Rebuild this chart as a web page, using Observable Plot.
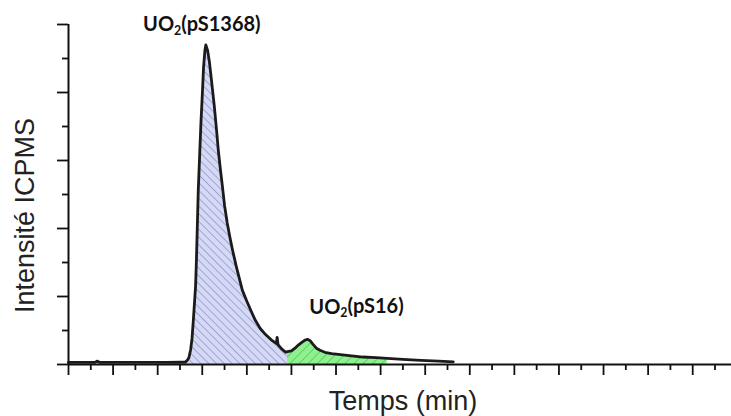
<!DOCTYPE html>
<html>
<head>
<meta charset="utf-8">
<script src="https://cdn.jsdelivr.net/npm/d3@7"></script>
<script src="https://cdn.jsdelivr.net/npm/@observablehq/plot@0.6"></script>
<style>
  html, body { margin: 0; padding: 0; background: #fff; }
</style>
</head>
<body>
<div id="chart"></div>
<script>
// ---- data ----
const times = [
  0.00, 0.30, 0.60, 0.65, 0.70, 1.00, 1.40, 1.80, 2.20, 2.50, 2.62,
  2.66, 2.70, 2.74, 2.77, 2.80, 2.83, 2.85, 2.87, 2.89, 2.91, 2.94, 2.97, 3.00, 3.03, 3.06, 3.08,
  3.12, 3.16, 3.20, 3.24, 3.27, 3.32, 3.36, 3.41, 3.45, 3.50, 3.56, 3.62, 3.68, 3.76, 3.83, 3.90,
  4.00, 4.10, 4.19, 4.30, 4.42, 4.57, 4.66, 4.68, 4.70, 4.78, 4.87, 4.91,
  5.00, 5.08, 5.16, 5.24, 5.31, 5.36, 5.42, 5.48, 5.56, 5.64, 5.75, 5.90, 6.05, 6.30, 6.60, 6.90,
  7.15, 7.50, 7.90, 8.30, 8.63
];
const intensities = [
  0.030, 0.030, 0.032, 0.050, 0.030, 0.030, 0.031, 0.030, 0.032, 0.033, 0.035,
  0.06, 0.10, 0.22, 0.38, 0.65, 0.95, 1.15, 1.55, 2.05, 2.55, 3.05, 3.55, 3.95, 4.38, 4.62, 4.70,
  4.62, 4.45, 4.22, 3.98, 3.80, 3.45, 3.15, 2.85, 2.63, 2.34, 2.08, 1.87, 1.68, 1.45, 1.27, 1.09,
  0.93, 0.78, 0.65, 0.53, 0.44, 0.35, 0.31, 0.40, 0.29, 0.23, 0.18, 0.19,
  0.20, 0.24, 0.29, 0.33, 0.36, 0.37, 0.35, 0.30, 0.24, 0.21, 0.18, 0.16, 0.15, 0.13, 0.11, 0.10,
  0.09, 0.075, 0.06, 0.05, 0.04
];
const peak1Range = [2.62, 4.91];   // UO2(pS1368) integrated zone
const peak2Range = [4.91, 7.15];   // UO2(pS16) integrated zone
const peakLabels = ["UO2(pS1368)", "UO2(pS16)"];
const peakLabelTimes = [2.99, 6.46];
const peakLabelIntensities = [4.90, 0.75];
const xMajorTicks = [0, 1, 2, 3, 4, 5, 6, 7, 8, 9, 10, 11, 12, 13, 14];
const xMinorTicks = [0.5, 1.5, 2.5, 3.5, 4.5, 5.5, 6.5, 7.5, 8.5, 9.5, 10.5, 11.5, 12.5, 13.5, 14.5];
const yMajorTicks = [0, 1, 2, 3, 4, 5];
const yMinorTicks = [0.5, 1.5, 2.5, 3.5, 4.5];
const xTitle = "Temps (min)";
const yTitle = "Intensité ICPMS";

// ---- build table ----
const data = times.map((t, i) => ({t, v: intensities[i]}));
const inRange = (r) => data.filter(d => d.t >= r[0] && d.t <= r[1]);
const labels = peakLabels.map((text, i) => ({text, t: peakLabelTimes[i], v: peakLabelIntensities[i]}));
const noText = () => "";

const plot = Plot.plot({
  width: 731,
  height: 416,
  marginLeft: 68,
  marginRight: 0,
  marginTop: 24,
  marginBottom: 52,
  x: {domain: [0, 14.87], axis: null, label: null},
  y: {domain: [0, 5], axis: null, label: null},
  marks: [
    Plot.areaY(inRange(peak1Range), {x: "t", y: "v", fill: "url(#hatchBlue)"}),
    Plot.areaY(inRange(peak2Range), {x: "t", y: "v", fill: "url(#hatchGreen)"}),
    Plot.line(data, {x: "t", y: "v", stroke: "#1b1b1b", strokeWidth: 2.8, strokeLinejoin: "round"}),
    Plot.axisX({ticks: xMajorTicks, tickSize: 11, tickFormat: noText, label: null, stroke: "#111", strokeWidth: 1.8}),
    Plot.axisX({ticks: xMinorTicks, tickSize: 6, tickFormat: noText, label: null, stroke: "#111", strokeWidth: 1.8}),
    Plot.axisY({ticks: yMajorTicks, tickSize: 11, tickFormat: noText, label: null, stroke: "#111", strokeWidth: 1.8}),
    Plot.axisY({ticks: yMinorTicks, tickSize: 6, tickFormat: noText, label: null, stroke: "#111", strokeWidth: 1.8}),
    Plot.ruleY([0], {stroke: "#111", strokeWidth: 2}),
    Plot.ruleX([0], {stroke: "#111", strokeWidth: 2}),
    Plot.text(labels, {x: "t", y: "v", text: "text", lineAnchor: "bottom", textAnchor: "middle",
      fontFamily: "Lato, 'Open Sans', sans-serif", fontWeight: "bold", fontSize: 20, fill: "#111"}),
    Plot.text([xTitle], {frameAnchor: "bottom", dx: 3, dy: 45, lineAnchor: "bottom",
      fontFamily: "'Liberation Sans', Arial, sans-serif", fontSize: 27, fill: "#222"}),
    Plot.text([yTitle], {frameAnchor: "left", dx: -35, dy: 21, rotate: -90, lineAnchor: "bottom", textAnchor: "middle",
      fontFamily: "'Liberation Sans', Arial, sans-serif", fontSize: 27, fill: "#222"})
  ]
});

// hatch patterns for integrated zones
const svg = d3.select(plot);
const defs = svg.insert("defs", ":first-child");
function hatch(id, bg, line, size, angle, w) {
  const p = defs.append("pattern").attr("id", id).attr("patternUnits", "userSpaceOnUse")
    .attr("width", size).attr("height", size).attr("patternTransform", `rotate(${angle})`);
  p.append("rect").attr("width", size).attr("height", size).attr("fill", bg);
  p.append("line").attr("x1", 0).attr("y1", 0).attr("x2", 0).attr("y2", size)
    .attr("stroke", line).attr("stroke-width", w);
}
hatch("hatchBlue", "#d5d9f7", "#858cb8", 5.5, -45, 1.3);
hatch("hatchGreen", "#8ef08e", "#4fbf4f", 6.5, 45, 1.3);

// subscript "2" in UO2 labels
svg.selectAll("text").each(function () {
  const s = this.textContent;
  const m = s.match(/^UO2(\(.*\))$/);
  if (m) {
    const el = d3.select(this);
    el.text(null);
    el.append("tspan").text("UO");
    el.append("tspan").attr("font-size", "0.62em").attr("dy", "0.32em").text("2");
    el.append("tspan").attr("dy", "-0.2em").text(m[1]);
  }
});

document.getElementById("chart").appendChild(plot);
</script>
</body>
</html>
